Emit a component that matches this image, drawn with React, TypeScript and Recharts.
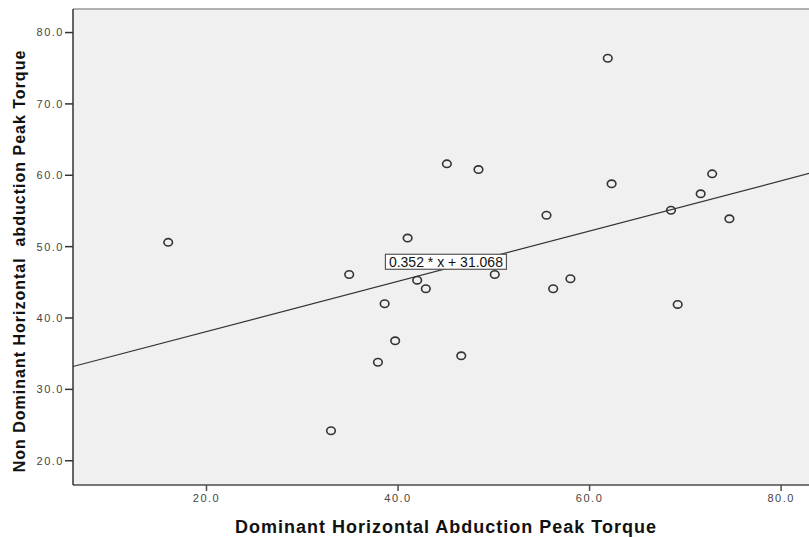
import React from "react";
import {CartesianGrid, ReferenceDot, ReferenceLine, Scatter, ScatterChart, XAxis, YAxis} from "recharts";

const dominant = [16.0, 33.0, 34.9, 37.9, 38.6, 39.7, 41.0, 42.0, 42.9, 45.1, 46.6, 48.4, 50.1, 55.5, 56.2, 58.0, 61.9, 62.3, 68.5, 69.2, 71.6, 72.8, 74.6];
const nonDominant = [50.6, 24.2, 46.1, 33.8, 42.0, 36.8, 51.2, 45.3, 44.1, 61.6, 34.7, 60.8, 46.1, 54.4, 44.1, 45.5, 76.4, 58.8, 55.1, 41.9, 57.4, 60.2, 53.9];
const xTicks = [20, 40, 60, 80];
const yTicks = [20, 30, 40, 50, 60, 70, 80];
const fitSlope = 0.352;
const fitIntercept = 31.068;
const fitText = "0.352 * x + 31.068";

const xDomain = [6.06, 85];
const yDomain = [16.6, 83.3];

const points = dominant.map((x, i) => ({x, y: nonDominant[i]}));

const font = "'Liberation Sans', Arial, sans-serif";

const Ring = (props: any) => (
    <ellipse cx={props.cx} cy={props.cy} rx={4.3} ry={3.7} fill="none" stroke="#333" strokeWidth={1.6}/>
);

const FitBox = (props: any) => {
    const {cx, cy} = props;
    return (
        <g>
            <rect x={cx - 60.5} y={cy - 7.5} width={121} height={15} fill="#fff" stroke="#555" strokeWidth={1.2}/>
            <text x={cx} y={cy} textAnchor="middle" dominantBaseline="central" fontSize={14} fontFamily={font} fill="#111">{fitText}</text>
        </g>
    );
};

const YTitle = (props: any) => {
    const {viewBox} = props;
    const cx = viewBox.x + 19;
    const cy = viewBox.y + viewBox.height / 2 + 14;
    return (
        <text x={cx} y={cy} transform={`rotate(-90 ${cx} ${cy})`} textAnchor="middle" dominantBaseline="central"
              fontSize={16} fontWeight="bold" letterSpacing={1} fontFamily={font} fill="#111" style={{whiteSpace: "pre"}}>
            Non Dominant Horizontal  abduction Peak Torque
        </text>
    );
};

export default function App() {
    const fmt = (v: number) => v.toFixed(1);
    return (
        <div style={{position: "absolute", left: 0, top: 0, width: 809, height: 537, overflow: "hidden", background: "#fff"}}>
            <ScatterChart width={835} height={537} margin={{top: 9, right: 6, left: 0, bottom: 0}}>
                <CartesianGrid horizontal={false} vertical={false} fill="#f0f0f0" fillOpacity={1}/>
                <XAxis type="number" dataKey="x" domain={xDomain} ticks={xTicks} tickFormatter={fmt} height={52}
                       allowDataOverflow tickSize={6} tickMargin={3}
                       axisLine={{stroke: "#4d4d4d", strokeWidth: 1.5}} tickLine={{stroke: "#4d4d4d", strokeWidth: 1.5}}
                       tick={{fontSize: 11, fill: "#444", fontFamily: font, letterSpacing: 1.5}}
                       label={{value: "Dominant Horizontal Abduction Peak Torque", position: "insideBottom", offset: 4, dx: -5,
                           style: {fontSize: 18, fontWeight: "bold", letterSpacing: 1, fill: "#111", fontFamily: font}}}/>
                <YAxis type="number" dataKey="y" domain={yDomain} ticks={yTicks} tickFormatter={fmt} width={73}
                       allowDataOverflow tickSize={8} tickMargin={1}
                       axisLine={{stroke: "#333", strokeWidth: 1.5}} tickLine={{stroke: "#333", strokeWidth: 1.5}}
                       tick={{fontSize: 11, fill: "#444", fontFamily: font, letterSpacing: 1.5}}
                       label={<YTitle/>}/>
                <ReferenceLine y={yDomain[1]} stroke="#999" strokeWidth={1.5}/>
                <ReferenceLine stroke="#333" strokeWidth={1.2}
                               segment={[{x: xDomain[0], y: fitSlope * xDomain[0] + fitIntercept}, {x: xDomain[1], y: fitSlope * xDomain[1] + fitIntercept}]}/>
                <Scatter data={points} shape={Ring} isAnimationActive={false}/>
                <ReferenceDot x={45} y={47.88} shape={FitBox}/>
            </ScatterChart>
        </div>
    );
}
